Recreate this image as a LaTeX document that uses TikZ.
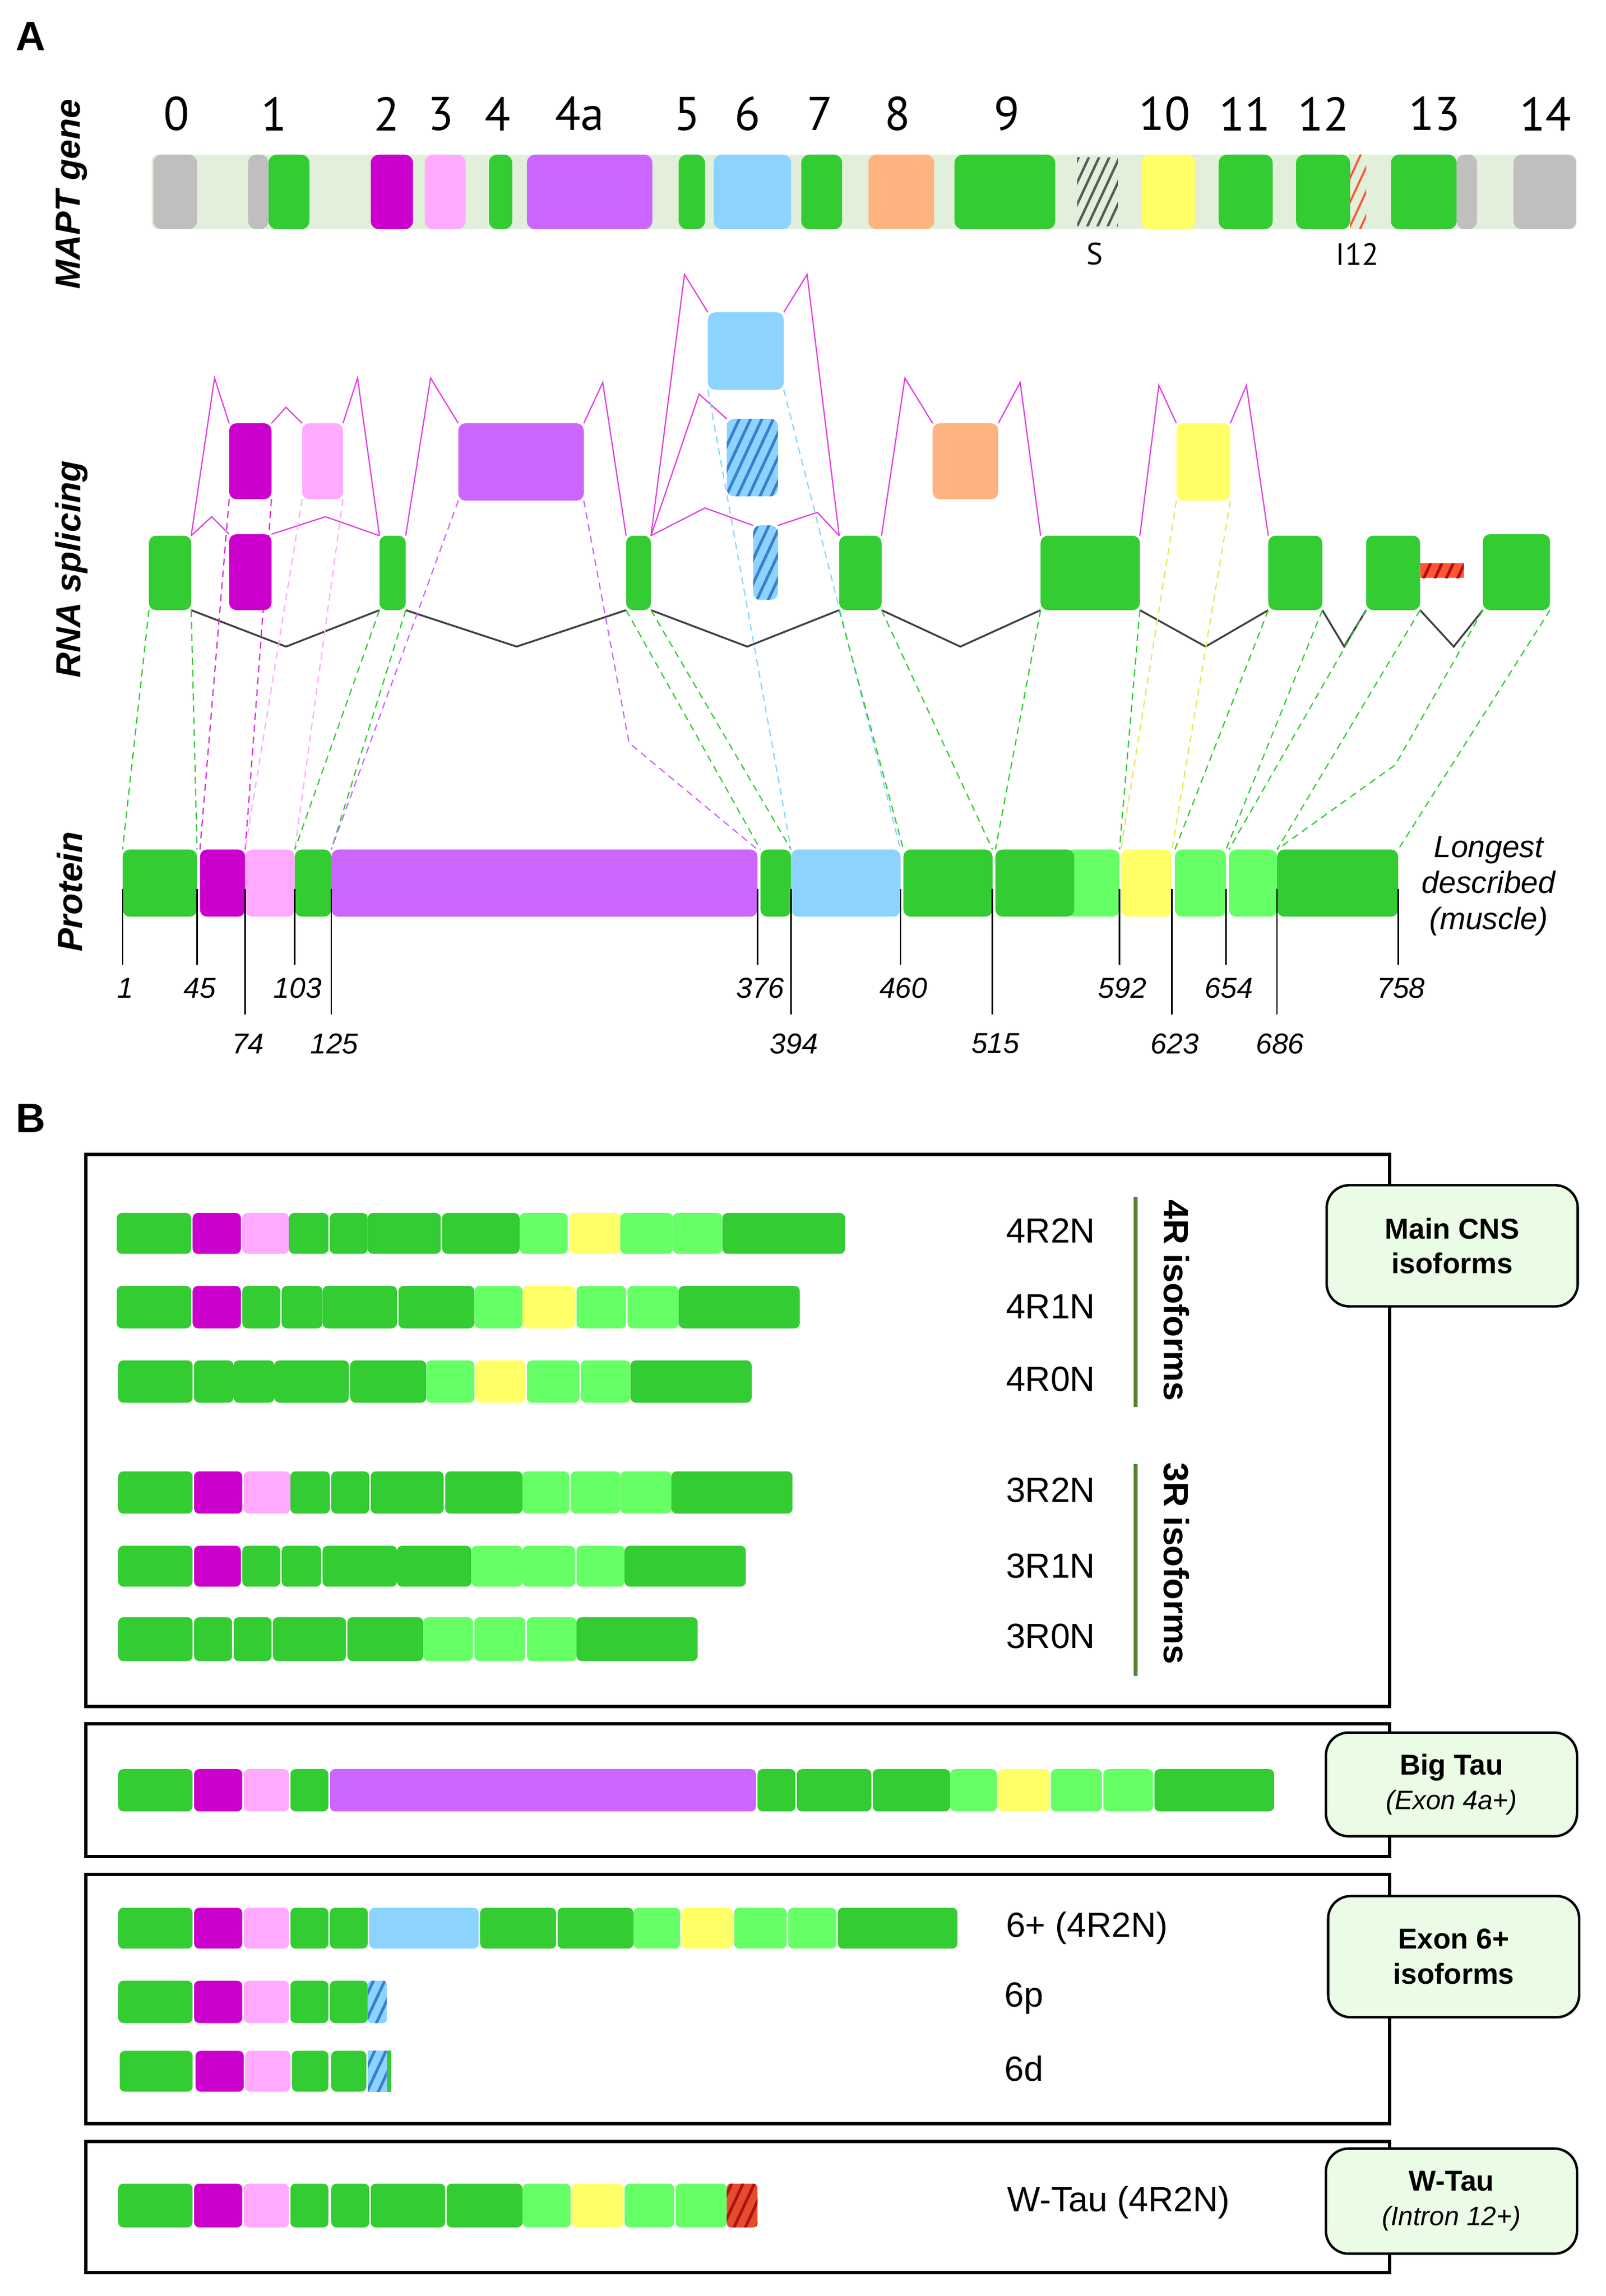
\documentclass[tikz,border=0pt]{standalone}
\usepackage{fontspec}
\setmainfont{Liberation Sans}
\newfontfamily\genefont{PT Sans}
\usepackage{xcolor}
\usepackage{tikz}
\usetikzlibrary{positioning,fit,backgrounds,patterns.meta}

\definecolor{exgreen}{HTML}{33CC33}
\definecolor{exlight}{HTML}{66FF66}
\definecolor{exmag}{HTML}{CC00CC}
\definecolor{expink}{HTML}{FFAAFF}
\definecolor{expurple}{HTML}{CC66FF}
\definecolor{exblue}{HTML}{8CD3FF}
\definecolor{exorange}{HTML}{FFB380}
\definecolor{exyellow}{HTML}{FFFF66}
\definecolor{exgrey}{HTML}{BFBFBF}
\definecolor{exred}{HTML}{FF5533}
\definecolor{genebg}{HTML}{E2EFDA}
\definecolor{hatchblue}{HTML}{3A7FCC}
\definecolor{hatchred}{HTML}{B01010}
\definecolor{splicemag}{HTML}{E040E0}
\definecolor{labelfill}{HTML}{EAFCE6}
\definecolor{isoline}{HTML}{548235}

\begin{document}
\begin{tikzpicture}[x=0.025cm, y=-0.025cm,
    exon/.style={fill=#1, rounded corners=3.5pt, inner sep=0pt, outer sep=0pt},
    hatch/.style={postaction={pattern={Lines[angle=65,distance=5pt,line width=1.4pt]}, pattern color=#1}},
    splice/.style={splicemag, line width=0.6pt},
    intron/.style={black!75, line width=0.9pt},
    maplink/.style={#1, dash pattern=on 3.4pt off 2.4pt, line width=0.6pt},
    tickline/.style={black, line width=0.7pt},
    ticklabel/.style={font=\itshape\fontsize{14}{16}\selectfont},
    genelabel/.style={font=\genefont\fontsize{23}{26}\selectfont},
    genesmall/.style={font=\genefont\fontsize{15}{18}\selectfont},
    rowlabel/.style={rotate=90, font=\bfseries\itshape\fontsize{17}{20}\selectfont},
    panel/.style={draw, line width=1.6pt},
    tagbox/.style={draw, line width=1.2pt, fill=labelfill, rounded corners=11pt, inner sep=0pt,
                   minimum width=4.3cm, align=center, font=\bfseries\fontsize{14}{17}\selectfont},
    isolabel/.style={anchor=west, inner sep=0pt, font=\fontsize{17}{20}\selectfont},
    isobar/.style={isoline, line width=1.8pt},
    grouplabel/.style={rotate=-90, font=\bfseries\fontsize{17}{20}\selectfont}
]
    \useasboundingbox (0,0) rectangle (1100,1573);

    % Panel letters and row titles
    \node[font=\bfseries\fontsize{20}{24}\selectfont] (pA) at (21,25) {A};
    \node[font=\bfseries\fontsize{20}{24}\selectfont] (pB) at (21,766) {B};
    \node[rowlabel] (lgene) at (49,133) {MAPT gene};
    \node[rowlabel] (lrna) at (49,390) {RNA splicing};
    \node[rowlabel] (lprot) at (48,611) {Protein};

    % MAPT gene: exon numbers
    \foreach \x/\n in {121/0, 188/1, 265/2, 302/3, 341/4, 397/4a, 471/5, 512/6, 562/7, 615/8,
                       690/9, 798/10, 853/11, 907/12, 983/13, 1059/14} {
        \node[genelabel] (gl\n) at (\x,78) {\n};
    }

    % MAPT gene: exon blocks
    \fill[genebg, rounded corners=3pt] (104,106) rectangle (1080,157);
    \foreach \a/\b/\c in {105/135/exgrey, 170/184/exgrey, 184/212/exgreen, 254/283/exmag,
                          291/319/expink, 335/351/exgreen, 361/447/expurple, 465/483/exgreen,
                          489/542/exblue, 549/577/exgreen, 595/640/exorange, 654/723/exgreen,
                          782/819/exyellow, 835/872/exgreen, 888/925/exgreen, 953/998/exgreen,
                          998/1012/exgrey, 1037/1080/exgrey} {
        \fill[\c, rounded corners=4pt] (\a,106) rectangle (\b,157);
    }
    \fill[pattern={Lines[angle=65,distance=4.5pt,line width=1.2pt]}, pattern color=black!65] (738,108) rectangle (766,155);
    \fill[pattern={Lines[angle=65,distance=5pt,line width=1pt]}, pattern color=exred] (925,106) rectangle (936,157);
    \node[genesmall] (lS) at (750,174) {S};
    \node[genesmall] (lI12) at (930,174) {I12};

    % RNA splicing: alternative exons
    \node[exon=exblue, fit={(485,214) (537,267)}] (e6) {};
    \node[exon=exmag, fit={(157,290) (186,342)}] (e2) {};
    \node[exon=expink, fit={(207,290) (235,342)}] (e3) {};
    \node[exon=expurple, fit={(314,290) (400,343)}] (e4a) {};
    \node[exon=exblue, hatch=hatchblue, fit={(498,287) (533,340)}] (e6p) {};
    \node[exon=exorange, fit={(639,290) (684,342)}] (e8) {};
    \node[exon=exyellow, fit={(806,290) (843,343)}] (e10) {};

    % RNA splicing: constitutive exons
    \node[exon=exgreen, fit={(102,367) (131,418)}] (e1) {};
    \node[exon=exmag, fit={(157,366) (186,418)}] (e2b) {};
    \node[exon=exgreen, fit={(260,367) (278,418)}] (e4) {};
    \node[exon=exgreen, fit={(429,367) (446,418)}] (e5) {};
    \node[exon=exblue, hatch=hatchblue, fit={(516,360) (533,411)}] (e6d) {};
    \node[exon=exgreen, fit={(575,367) (604,418)}] (e7) {};
    \node[exon=exgreen, fit={(713,367) (781,418)}] (e9) {};
    \node[exon=exgreen, fit={(869,367) (906,418)}] (e11) {};
    \node[exon=exgreen, fit={(936,367) (973,418)}] (e12) {};
    \node[exon=exred, hatch=hatchred, sharp corners, fit={(973,386) (1003,396)}] (i12) {};
    \node[exon=exgreen, fit={(1016,366) (1062,418)}] (e13) {};

    % Protein (longest isoform)
    \node[exon=exgreen, fit={(84,582) (135,628)}] (t1) {};
    \node[exon=exmag, fit={(137,582) (168,628)}] (t2) {};
    \node[exon=expink, fit={(168,582) (202,628)}] (t3) {};
    \node[exon=exgreen, fit={(202,582) (227,628)}] (t4) {};
    \node[exon=expurple, fit={(227,582) (519,628)}] (t5) {};
    \node[exon=exgreen, fit={(521,582) (542,628)}] (t6) {};
    \node[exon=exblue, fit={(542,582) (617,628)}] (t7) {};
    \node[exon=exgreen, fit={(619,582) (680,628)}] (t8) {};
    \node[exon=exlight, fit={(731,582) (767,628)}] (t9b) {};
    \node[exon=exgreen, fit={(682,582) (736,628)}] (t9) {};
    \node[exon=exyellow, fit={(768,582) (803,628)}] (t10) {};
    \node[exon=exlight, fit={(805,582) (840,628)}] (t11) {};
    \node[exon=exlight, fit={(842,582) (875,628)}] (t12) {};
    \node[exon=exgreen, fit={(875,582) (958,628)}] (t13) {};
    \node[font=\itshape\fontsize{15}{17.5}\selectfont, align=center] (longest) at (1020,607) {Longest\\described\\(muscle)};

    % Residue numbers
    \foreach \x/\n in {84/1, 135/45, 202/103, 519/376, 617/460, 767/592, 840/654, 958/758} {
        \draw[tickline] (\x,609) -- (\x,661);
        \node[ticklabel] (tk\n) at (\x+2,677) {\n};
    }
    \foreach \x/\n in {168/74, 227/125, 542/394, 680/515, 803/623, 875/686} {
        \draw[tickline] (\x,609) -- (\x,695);
        \node[ticklabel] (tk\n) at (\x+2,715) {\n};
    }

    \begin{scope}[on background layer]
        % Splice junctions
        \draw[splice] (e1.north east) -- (147,259) -- (e2.north west);
        \draw[splice] (e2.north east) -- (196,279) -- (e3.north west);
        \draw[splice] (e3.north east) -- (245,259) -- (e4.north west);
        \draw[splice] (e1.north east) -- (145,354) -- (e2b.north west);
        \draw[splice] (e2b.north east) -- (223,354) -- (e4.north west);
        \draw[splice] (e4.north east) -- (295,259) -- (e4a.north west);
        \draw[splice] (e4a.north east) -- (413,262) -- (e5.north west);
        \draw[splice] (e5.north east) -- (469,188) -- (e6.north west);
        \draw[splice] (e6.north east) -- (553,188) -- (e7.north west);
        \draw[splice] (e5.north east) -- (479,270) -- (e6p.north west);
        \draw[splice] (e5.north east) -- (483,348) -- (e6d.north west);
        \draw[splice] (e6d.north east) -- (560,351) -- (e7.north west);
        \draw[splice] (e7.north east) -- (620,259) -- (e8.north west);
        \draw[splice] (e8.north east) -- (699,262) -- (e9.north west);
        \draw[splice] (e9.north east) -- (794,264) -- (e10.north west);
        \draw[splice] (e10.north east) -- (854,264) -- (e11.north west);

        % Introns
        \draw[intron] (e1.south east) -- (196,443) -- (e4.south west);
        \draw[intron] (e4.south east) -- (354,443) -- (e5.south west);
        \draw[intron] (e5.south east) -- (512,443) -- (e7.south west);
        \draw[intron] (e7.south east) -- (658,443) -- (e9.south west);
        \draw[intron] (e9.south east) -- (826,443) -- (e11.south west);
        \draw[intron] (e11.south east) -- (921,443) -- (e12.south west);
        \draw[intron] (e12.south east) -- (996,443) -- (e13.south west);

        % Exons to protein
        \draw[maplink=exgreen] (e1.south west) -- (t1.north west);
        \draw[maplink=exgreen] (e1.south east) -- (t1.north east);
        \draw[maplink=exmag!80] (e2.south west) -- (t2.north west);
        \draw[maplink=exmag!80] (e2.south east) -- (t2.north east);
        \draw[maplink=expink] (e3.south west) -- (t3.north west);
        \draw[maplink=expink] (e3.south east) -- (t3.north east);
        \draw[maplink=exgreen] (e4.south west) -- (t4.north west);
        \draw[maplink=exgreen] (e4.south east) -- (t4.north east);
        \draw[maplink=expurple] (e4a.south west) -- (t5.north west);
        \draw[maplink=expurple] (e4a.south east) -- (431,509) -- (t5.north east);
        \draw[maplink=exgreen] (e5.south west) -- (t6.north west);
        \draw[maplink=exgreen] (e5.south east) -- (t6.north east);
        \draw[maplink=exblue] (e6.south west) -- (t7.north west);
        \draw[maplink=exblue] (e6.south east) -- (t7.north east);
        \draw[maplink=exgreen] (e7.south west) -- (t8.north west);
        \draw[maplink=exgreen] (e7.south east) -- (t8.north east);
        \draw[maplink=exgreen] (e9.south west) -- (t9.north west);
        \draw[maplink=exgreen] (e9.south east) -- (t9b.north east);
        \draw[maplink=exyellow!90!black] (e10.south west) -- (t10.north west);
        \draw[maplink=exyellow!90!black] (e10.south east) -- (t10.north east);
        \draw[maplink=exgreen] (e11.south west) -- (t11.north west);
        \draw[maplink=exgreen] (e11.south east) -- (t11.north east);
        \draw[maplink=exgreen] (e12.south west) -- (t12.north west);
        \draw[maplink=exgreen] (e12.south east) -- (t12.north east);
        \draw[maplink=exgreen] (e13.south west) -- (956,524) -- (t13.north west);
        \draw[maplink=exgreen] (e13.south east) -- (t13.north east);
    \end{scope}

    % B: frames
    \draw[panel] (59,791) rectangle (952,1169);
    \draw[panel] (59,1181) rectangle (952,1272);
    \draw[panel] (59,1284) rectangle (952,1455);
    \draw[panel] (59,1467) rectangle (952,1557);

    % Main CNS isoforms
    \foreach \a/\b/\c in {80/131/exgreen, 132/165/exmag, 166/198/expink, 198/225/exgreen, 226/252/exgreen,
                          252/302/exgreen, 303/356/exgreen, 356/389/exlight, 390/425/exyellow,
                          425/461/exlight, 461/495/exlight, 495/579/exgreen}
        \fill[\c, rounded corners=2.5pt] (\a,831) rectangle (\b,859);
    \foreach \a/\b/\c in {80/131/exgreen, 132/165/exmag, 166/192/exgreen, 193/221/exgreen, 221/272/exgreen,
                          273/325/exgreen, 325/358/exlight, 358/394/exyellow, 395/429/exlight,
                          430/465/exlight, 465/548/exgreen}
        \fill[\c, rounded corners=2.5pt] (\a,881) rectangle (\b,910);
    \foreach \a/\b/\c in {81/132/exgreen, 133/160/exgreen, 160/188/exgreen, 188/239/exgreen, 240/292/exgreen,
                          292/325/exlight, 326/360/exyellow, 361/397/exlight, 398/432/exlight,
                          432/515/exgreen}
        \fill[\c, rounded corners=2.5pt] (\a,932) rectangle (\b,961);
    \foreach \a/\b/\c in {81/132/exgreen, 133/166/exmag, 167/199/expink, 199/226/exgreen, 227/253/exgreen,
                          254/304/exgreen, 305/358/exgreen, 358/390/exlight, 391/425/exlight,
                          425/460/exlight, 460/543/exgreen}
        \fill[\c, rounded corners=2.5pt] (\a,1008) rectangle (\b,1037);
    \foreach \a/\b/\c in {81/132/exgreen, 133/165/exmag, 166/192/exgreen, 193/220/exgreen, 221/272/exgreen,
                          272/323/exgreen, 323/358/exlight, 358/394/exlight, 395/428/exlight,
                          428/511/exgreen}
        \fill[\c, rounded corners=2.5pt] (\a,1059) rectangle (\b,1087);
    \foreach \a/\b/\c in {81/132/exgreen, 133/159/exgreen, 160/186/exgreen, 187/237/exgreen, 238/290/exgreen,
                          290/324/exlight, 325/360/exlight, 361/395/exlight, 395/478/exgreen}
        \fill[\c, rounded corners=2.5pt] (\a,1108) rectangle (\b,1138);

    \node[isolabel] (i4r2n) at (689,843) {4R2N};
    \node[isolabel] (i4r1n) at (689,895) {4R1N};
    \node[isolabel] (i4r0n) at (689,945) {4R0N};
    \node[isolabel] (i3r2n) at (689,1021) {3R2N};
    \node[isolabel] (i3r1n) at (689,1073) {3R1N};
    \node[isolabel] (i3r0n) at (689,1121) {3R0N};
    \draw[isobar] (778,820) -- (778,964);
    \draw[isobar] (778,1003) -- (778,1148);
    \node[grouplabel] (g4r) at (806,891) {4R isoforms};
    \node[grouplabel] (g3r) at (806,1071) {3R isoforms};

    % Big Tau
    \foreach \a/\b/\c in {81/132/exgreen, 133/166/exmag, 167/198/expink, 199/225/exgreen, 226/518/expurple,
                          519/545/exgreen, 546/597/exgreen, 598/651/exgreen, 651/683/exlight,
                          684/719/exyellow, 720/755/exlight, 756/790/exlight, 791/873/exgreen}
        \fill[\c, rounded corners=2.5pt] (\a,1212) rectangle (\b,1241);

    % Exon 6+ isoforms
    \foreach \a/\b/\c in {81/132/exgreen, 133/166/exmag, 167/198/expink, 199/225/exgreen, 226/252/exgreen,
                          253/328/exblue, 329/381/exgreen, 382/434/exgreen, 434/466/exlight,
                          467/502/exyellow, 503/539/exlight, 540/573/exlight, 574/656/exgreen}
        \fill[\c, rounded corners=2.5pt] (\a,1307) rectangle (\b,1335);
    \foreach \a/\b/\c in {81/132/exgreen, 133/166/exmag, 167/198/expink, 199/225/exgreen, 226/252/exgreen}
        \fill[\c, rounded corners=2.5pt] (\a,1357) rectangle (\b,1386);
    \fill[exblue, hatch=hatchblue, rounded corners=1.5pt] (252,1357) rectangle (265,1386);
    \foreach \a/\b/\c in {82/132/exgreen, 134/167/exmag, 168/199/expink, 200/225/exgreen, 227/251/exgreen}
        \fill[\c, rounded corners=2.5pt] (\a,1405) rectangle (\b,1433);
    \fill[exblue, hatch=hatchblue] (252,1405) rectangle (265,1433);
    \fill[exgreen] (265,1405) rectangle (268,1433);
    \node[isolabel] (i6plus) at (689,1321) {6+ (4R2N)};
    \node[isolabel] (i6p) at (688,1369) {6p};
    \node[isolabel] (i6d) at (688,1417) {6d};

    % W-Tau
    \foreach \a/\b/\c in {81/132/exgreen, 133/166/exmag, 167/198/expink, 199/225/exgreen, 227/253/exgreen,
                          254/305/exgreen, 306/358/exgreen, 358/391/exlight, 392/427/exyellow,
                          428/462/exlight, 463/498/exlight}
        \fill[\c, rounded corners=2.5pt] (\a,1496) rectangle (\b,1526);
    \fill[exred!90!black, hatch=hatchred, rounded corners=2pt] (498,1496) rectangle (519,1526);
    \node[isolabel] (iwtau) at (690,1509) {W-Tau (4R2N)};

    % Group tags
    \node[tagbox, minimum height=2.075cm] (tcns) at (995,853.5) {Main CNS\\isoforms};
    \node[tagbox, minimum height=1.775cm] (tbig) at (994.5,1222.5) {Big Tau\\{\normalfont\itshape\fontsize{13}{17}\selectfont (Exon 4a+)}};
    \node[tagbox, minimum height=2.075cm] (tsix) at (996,1340.5) {Exon 6+\\isoforms};
    \node[tagbox, minimum height=1.8cm] (twtau) at (994.5,1508) {W-Tau\\{\normalfont\itshape\fontsize{13}{17}\selectfont (Intron 12+)}};

\end{tikzpicture}
\end{document}
